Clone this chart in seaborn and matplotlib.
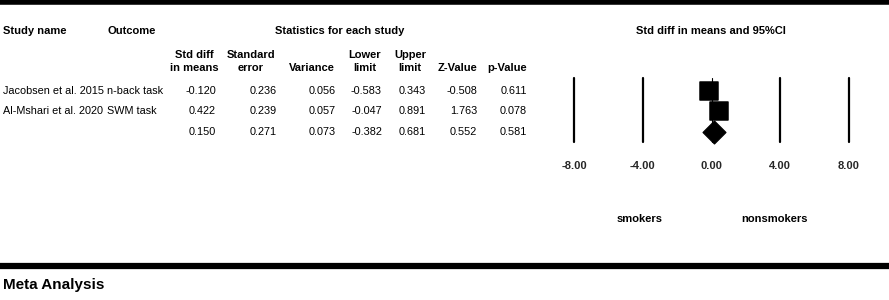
import numpy as np
import pandas as pd
import matplotlib
matplotlib.use("Agg")
import matplotlib.pyplot as plt
import matplotlib.transforms as mtransforms
import seaborn as sns
from matplotlib.lines import Line2D

sns.set_theme(style="white")
plt.rcParams['font.family'] = ['Liberation Sans', 'DejaVu Sans']

# Data
study_names = ["Jacobsen et al. 2015", "Al-Mshari et al. 2020", ""]
outcomes = ["n-back task", "SWM task", ""]
std_diff = [-0.120, 0.422, 0.150]
std_err = [0.236, 0.239, 0.271]
variance = [0.056, 0.057, 0.073]
lower = [-0.583, -0.047, -0.382]
upper = [0.343, 0.891, 0.681]
z_value = [-0.508, 1.763, 0.552]
p_value = [0.611, 0.078, 0.581]
is_summary = [False, False, True]
x_ticks = [-8, -4, 0, 4, 8]

df = pd.DataFrame({"study": study_names, "outcome": outcomes, "effect": std_diff,
                   "se": std_err, "var": variance, "lo": lower, "hi": upper,
                   "z": z_value, "p": p_value, "summary": is_summary})
df["row"] = np.arange(len(df))

W, H = 889, 300
fig = plt.figure(figsize=(W / 100, H / 100), dpi=100)
fig.patch.set_facecolor("white")


def px(x, y):
    return x / W, 1 - y / H


def txt(x, y, s, ha="left", bold=False, size=8):
    fx, fy = px(x, y)
    fig.text(fx, fy, s, ha=ha, va="center", fontsize=size,
             fontweight="bold" if bold else "normal", color="black")


# thick rules
for y0, lw in [(1.5, 4), (265.5, 4.5)]:
    fig.add_artist(Line2D([0, 1], [1 - y0 / H] * 2, color="black", lw=lw,
                          transform=fig.transFigure))

# headers
txt(3, 31, "Study name", bold=True)
txt(107, 31, "Outcome", bold=True)
txt(340, 31, "Statistics for each study", ha="center", bold=True)
txt(711, 31, "Std diff in means and 95%CI", ha="center", bold=True)

col_right = [216, 277, 336, 382, 426, 477, 527]
col_heads = [("Std diff", "in means"), ("Standard", "error"), ("", "Variance"),
             ("Lower", "limit"), ("Upper", "limit"), ("", "Z-Value"), ("", "p-Value")]
col_centers = [194, 251, 312, 365, 410, 458, 507]
for cx, (l1, l2) in zip(col_centers, col_heads):
    if l1:
        txt(cx, 55, l1, ha="center", bold=True)
    txt(cx, 68, l2, ha="center", bold=True)

row_y = [91, 111, 132]
cols = ["effect", "se", "var", "lo", "hi", "z", "p"]
for i, r in df.iterrows():
    y = row_y[i]
    txt(3, y, r["study"], size=7.8)
    txt(107, y, r["outcome"], size=7.8)
    for c, xr in zip(cols, col_right):
        txt(xr, y, f"{r[c]:.3f}", ha="right", size=7.8)

# forest plot axes
ax = fig.add_axes([574 / W, 1 - 142 / H, 275 / W, 64 / H])
ax.set_xlim(-8, 8)
ax.set_ylim(2.5, -0.63)
ax.axis("off")
for t in x_ticks:
    ax.axvline(t, color="black", lw=0.8 if t == 0 else 1.6, clip_on=False)

ax.hlines(df["row"], df["lo"], df["hi"], color="black", lw=1)
studies = df[~df["summary"]]
summ = df[df["summary"]]
sns.scatterplot(data=studies, x="effect", y="row", marker="s", s=185,
                color="black", edgecolor="black", ax=ax, clip_on=False, zorder=3)
sns.scatterplot(data=summ, x="effect", y="row", marker="D", s=135,
                color="black", edgecolor="black", ax=ax, clip_on=False, zorder=3)

# tick labels below the plot
tick_tr = mtransforms.blended_transform_factory(ax.transData, fig.transFigure)
for t in x_ticks:
    ax.text(t, 1 - 166 / H, f"{t:.2f}", transform=tick_tr, ha="center",
            va="center", fontsize=8, fontweight="bold")

txt(640, 219, "smokers", ha="center", bold=True)
txt(775, 219, "nonsmokers", ha="center", bold=True)

txt(3, 285, "Meta Analysis", bold=True, size=11)

fig.savefig("out.png", dpi=100, facecolor="white")
